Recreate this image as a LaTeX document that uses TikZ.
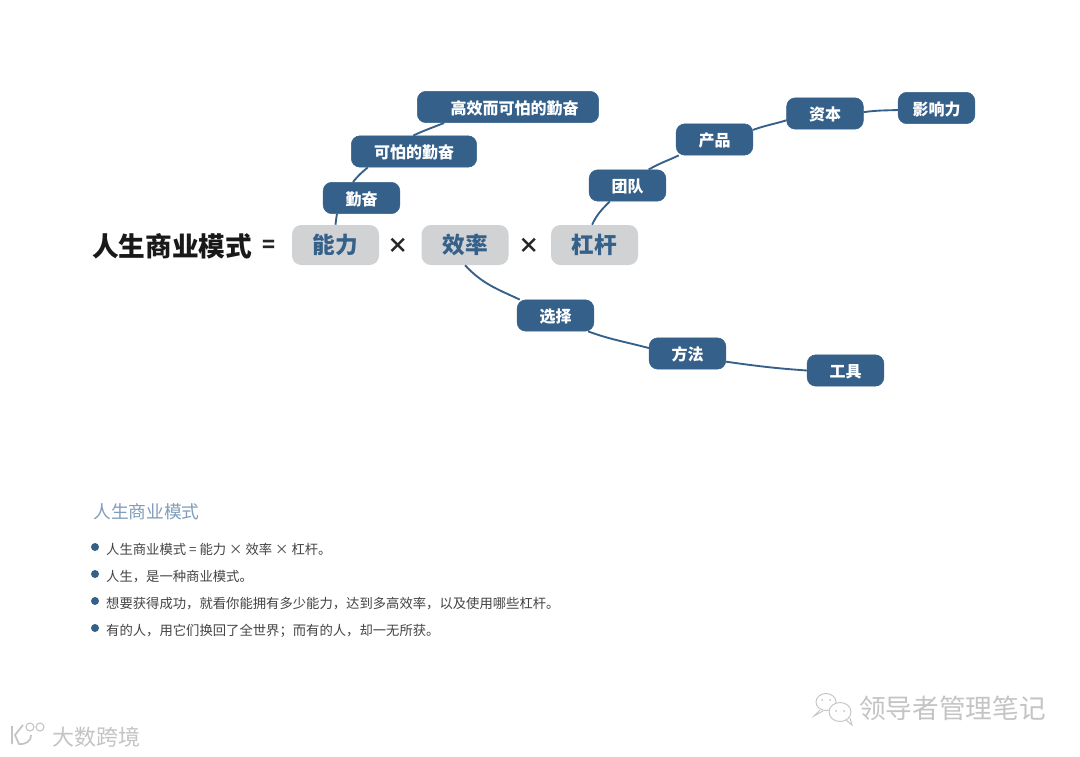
\documentclass[tikz,border=0pt]{standalone}
\usepackage{fontspec}
\setmainfont{Noto Sans CJK SC}
\usepackage{xcolor}
\usetikzlibrary{arrows.meta,positioning,calc}
\definecolor{cA}{HTML}{356089}
\definecolor{cB}{HTML}{D1D2D4}
\definecolor{cC}{HTML}{7F9DBB}
\definecolor{cD}{HTML}{444444}
\definecolor{cE}{HTML}{C4C4C4}
\tikzset{
  factor/.style={rounded corners=7pt,fill=cB,text=cA,minimum width=65.25pt,minimum height=30pt,
    inner sep=0pt,font=\fontsize{17}{18}\selectfont\bfseries},
  leaf/.style={rounded corners=6.5pt,fill=cA,draw=cA,text=white,minimum height=23.5pt,minimum width=57.5pt,
    inner sep=0pt,text height=11pt,text depth=0pt,font=\fontsize{12}{14}\selectfont\bfseries},
  branch/.style={cA,line width=1.4pt},
  sign/.style={inner sep=0pt,text=black!85,font=\fontsize{16}{18}\selectfont\bfseries},
  bullet/.style={circle,fill=cA,inner sep=0pt,minimum size=6pt},
  noteline/.style={right=5pt of #1,yshift=-2pt,inner sep=0pt,text=cD,font=\fontsize{10}{12}\selectfont},
  wmark/.style={inner sep=0pt,text=cE},
}
\begin{document}
\begin{tikzpicture}[x=0.75pt,y=-0.75pt]
  \useasboundingbox[fill=white] (0,0) rectangle (1080,756);
  % formula row
  \node[inner sep=0pt,text=black!90,font=\fontsize{20}{22}\selectfont\bfseries] (title) at (172,246) {人生商业模式};
  \node[sign] (eq) at (269,246) {=};
  \node[factor] (ability) at (335.5,245) {能力};
  \node[factor,right=31.5pt of ability] (speed) {效率};
  \node[factor,right=31.5pt of speed] (lever) {杠杆};
  \node[sign] (x1) at (398,246) {×};
  \node[sign] (x2) at (529,246) {×};
  % upper left
  \node[leaf] (diligent) at (361.5,198) {勤奋};
  \node[leaf,minimum width=94pt] (fearful) at (414,151.5) {可怕的勤奋};
  \node[leaf,minimum width=136pt] (efficient) at (508,107) {\hspace*{10pt}高效而可怕的勤奋};
  % upper right
  \node[leaf] (team) at (627.5,185.5) {团队};
  \node[leaf] (product) at (714.5,139.5) {产品};
  \node[leaf] (capital) at (825,113.5) {资本};
  \node[leaf] (influence) at (936.5,108) {影响力};
  % lower
  \node[leaf] (choice) at (555.5,315.5) {选择};
  \node[leaf] (method) at (687.5,353.5) {方法};
  \node[leaf] (tool) at (845.5,370.5) {工具};
  % branches
  \draw[branch] (ability.north) to[out=83,in=-100] (diligent.-147);
  \draw[branch] (diligent.118) to[out=52,in=-140] (fearful.-161);
  \draw[branch] (fearful.93) to[out=25,in=-158] (efficient.-166);
  \draw[branch] (lever.97) to[out=65,in=-135] (team.-138);
  \draw[branch] (team.37) to[out=30,in=-155] (product.-156);
  \draw[branch] (product.14) to[out=20,in=-163] (capital.-170);
  \draw[branch] (capital.2) to[out=8,in=-178] (influence.-177);
  \draw[branch] (speed.south) to[out=-47,in=155] (choice.156);
  \draw[branch] (choice.-26) to[out=-20,in=165] (method.172);
  \draw[branch] (method.-12) to[out=-8,in=176] (tool.180);
  % notes
  \node[anchor=west,inner sep=0pt,text=cC,font=\fontsize{13.3}{16}\selectfont] (head) at (93,512) {人生商业模式};
  \node[bullet] (b1) at (95,547) {};
  \node[bullet] (b2) at (95,574) {};
  \node[bullet] (b3) at (95,601) {};
  \node[bullet] (b4) at (95,628) {};
  \node[noteline=b1] (l1) {人生商业模式 = 能力 × 效率 × 杠杆。};
  \node[noteline=b2] (l2) {人生，是一种商业模式。};
  \node[noteline=b3] (l3) {想要获得成功，就看你能拥有多少能力，达到多高效率，以及使用哪些杠杆。};
  \node[noteline=b4] (l4) {有的人，用它们换回了全世界；而有的人，却一无所获。};
  % watermarks
  \node[wmark,anchor=west,font=\fontsize{20}{22}\selectfont] (wm1) at (859,708) {领导者管理笔记};
  \node[wmark,anchor=west,font=\fontsize{16.5}{18}\selectfont] (wm2) at (52,737) {大数跨境};
  \draw[cE,line width=0.7pt] (826,702) ellipse (10 and 8.5);
  \draw[cE,line width=0.7pt,fill=white] (840,712) ellipse (11 and 9.5);
  \draw[cE,line width=0.7pt] (820,710) -- (814,716) -- (823,711);
  \draw[cE,line width=0.7pt] (846,720) -- (852,725) -- (850,718);
  \fill[cE] (822,700) circle (1) (830,700) circle (1) (836,711) circle (1) (844,711) circle (1);
  \draw[cE,line width=1.3pt] (12,726) -- (12,744) (23,725) -- (15,735) -- (19,744) to[out=-10,in=-80] (31,735);
  \draw[cE,line width=0.8pt] (30,727) circle (4) (40,727) circle (4);
\end{tikzpicture}
\end{document}
